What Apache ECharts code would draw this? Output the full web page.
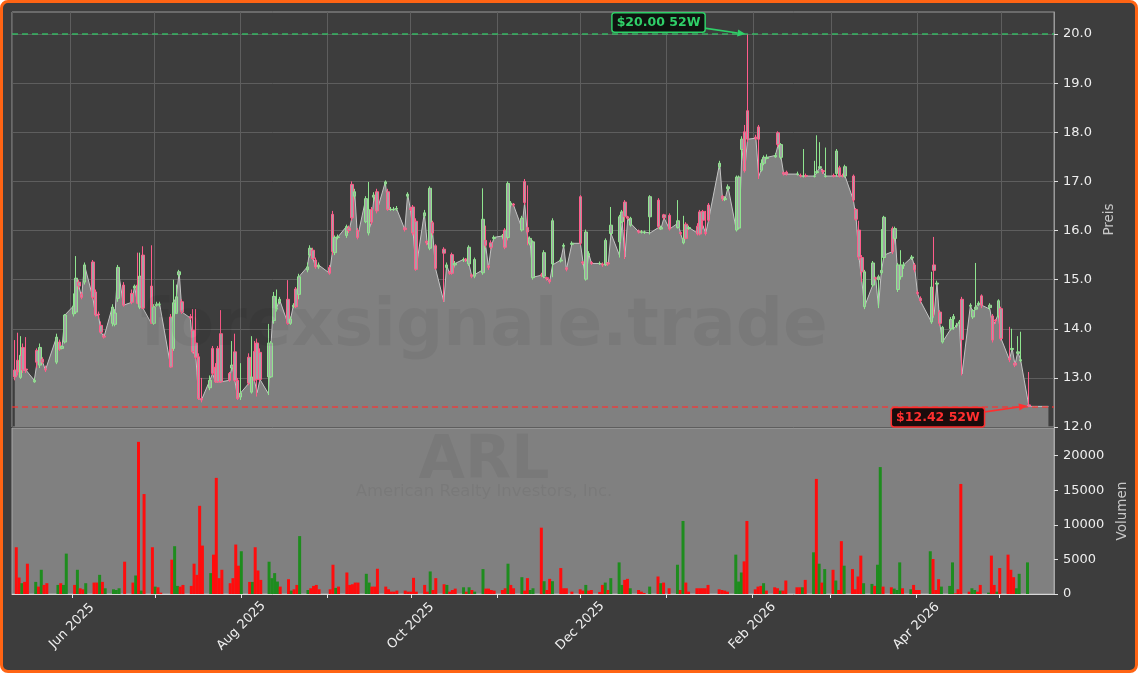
<!DOCTYPE html>
<html>
<head>
<meta charset="utf-8">
<title>ARL</title>
<script src="https://cdn.jsdelivr.net/npm/echarts@6/dist/echarts.min.js"></script>
<style>
  html, body { margin: 0; padding: 0; background: #ffffff; }
  #frame {
    position: absolute; left: 0; top: 0; width: 1138px; height: 673px;
    box-sizing: border-box; border: 3px solid #ff6414; border-radius: 8px; background: #3d3d3d;
  }
  #chart { position: absolute; left: 0; top: 0; width: 1138px; height: 673px; }
</style>
</head>
<body>
<div id="frame"></div>
<div id="chart"></div>
<script>
// Handelstage ab 12.05.2025, US-Feiertage ausgenommen
const startDay = '2025-05-12'
const holidays = ['2025-05-26', '2025-06-19', '2025-07-04', '2025-09-01', '2025-11-27',
  '2025-12-25', '2026-01-01', '2026-01-19', '2026-02-16', '2026-04-03']
const axisStart = '2025-05-11'
const axisEnd = '2026-05-20'

const monthNames = ['Jan', 'Feb', 'Mar', 'Apr', 'May', 'Jun', 'Jul', 'Aug', 'Sep', 'Oct', 'Nov', 'Dec']
const priceTicks = [12, 13, 14, 15, 16, 17, 18, 19, 20]
const volumeTicks = [0, 5000, 10000, 15000, 20000]

// Kerzen
const opens = [
  13.16, 13.36, 13.01, 13.62, 13.18, 12.92, 13.56, 13.26, 13.38, 13.18, 13.32, 13.73, 13.60, 13.73, 14.30, 14.34, 14.95, 14.70, 14.95, 15.36, 14.75, 14.30, 14.07, 13.85, 14.11, 14.09, 14.62, 14.89, 14.72, 14.83, 14.89, 14.44, 15.50, 14.87, 14.11, 14.48, 14.50,
  14.24, 13.60, 14.31, 15.10, 14.55, 14.25, 13.97, 13.71, 13.43, 12.58, 12.80, 13.60, 13.22, 13.60, 13.90, 13.09, 13.20, 13.53, 12.95, 12.61, 13.42, 12.71, 13.54, 13.71, 13.52, 13.02, 13.02, 14.17, 14.40, 14.55, 14.60, 14.11, 14.45, 14.81, 14.70, 15.20, 15.50,
  15.60, 15.40, 15.26, 15.25, 16.33, 15.55, 15.86, 15.90, 16.05, 16.94, 16.70, 16.00, 16.18, 15.95, 16.43, 16.68, 16.79, 16.95, 16.79, 16.43, 16.43, 16.44, 16.05, 16.70, 16.45, 16.48, 16.19, 16.30, 15.78, 15.64, 16.16, 15.69, 15.62, 15.25, 15.15, 15.51, 15.30,
  15.40, 15.42, 15.32, 15.10, 15.07, 15.14, 15.80, 15.28, 15.75, 15.84, 15.88, 16.01, 15.86, 16.52, 16.54, 16.01, 17.00, 16.06, 15.74, 15.04, 15.10, 15.07, 15.04, 15.00, 15.32, 15.38, 15.68, 15.24, 15.72, 16.69, 15.36, 15.01, 15.50, 15.35, 15.33, 15.32,
  15.30, 15.34, 15.94, 15.77, 16.18, 16.58, 16.28, 16.11, 15.99, 15.97, 15.96, 16.28, 16.62, 16.03, 16.32, 16.31, 16.06, 15.96, 15.75, 16.13, 16.04, 16.09, 16.38, 16.39, 15.96, 16.52, 17.30, 16.70, 16.63, 16.85, 16.01, 16.05, 17.65, 18.01, 18.44,
  17.90, 18.11, 17.23, 17.37, 17.47, 17.50, 17.99, 17.49, 17.18, 17.19, 17.15, 17.12, 17.11, 17.12, 17.10, 17.18, 17.28, 17.22, 17.10, 17.12, 17.16, 17.28, 17.12, 17.11, 17.11, 16.43, 16.01, 15.45, 14.45, 14.89, 15.04, 15.00, 15.14, 15.45, 16.04, 15.84, 14.80, 15.06,
  15.28, 15.44, 15.30, 14.74, 14.62, 14.14, 15.30, 14.91, 14.34, 13.73, 14.00, 14.20, 14.06, 14.12, 14.60, 14.46, 14.24, 14.40, 14.50, 14.67, 14.43, 14.26, 14.18, 14.26, 14.41, 13.40, 13.58, 13.30, 13.50, 13.35, 12.45
]
const closes = [
  13.02, 13.12, 13.46, 13.16, 13.16, 12.95, 13.32, 13.62, 13.32, 13.16, 13.83, 13.58, 13.64, 14.28, 14.46, 15.03, 14.87, 14.64, 15.30, 14.64, 14.28, 14.28, 13.93, 13.83, 14.44, 14.32, 15.25, 14.48, 14.54, 14.87, 14.52, 15.07, 14.42, 14.11, 14.44, 14.50, 14.50,
  13.22, 14.53, 14.65, 15.16, 14.34, 14.22, 13.53, 13.42, 12.58, 12.55, 12.95, 13.09, 12.92, 12.92, 12.92, 12.95, 13.26, 12.95, 12.58, 12.69, 12.89, 13.02, 12.95, 12.97, 12.97, 13.71, 13.71, 14.66, 14.42, 14.60, 14.11, 14.20, 14.48, 14.45, 15.06, 15.26, 15.64,
  15.43, 15.26, 15.30, 15.13, 15.57, 15.86, 15.87, 16.08, 16.00, 16.26, 16.79, 15.86, 16.65, 16.43, 16.17, 16.72, 16.40, 16.99, 16.43, 16.43, 16.43, 16.45, 16.02, 16.74, 16.43, 15.95, 15.21, 16.36, 15.75, 16.86, 15.95, 15.23, 15.54, 15.30, 15.13, 15.13, 15.33,
  15.41, 15.40, 15.66, 15.07, 15.41, 16.23, 15.70, 15.25, 15.66, 15.86, 15.89, 15.66, 16.96, 16.56, 16.52, 16.25, 16.57, 15.97, 15.84, 15.77, 15.09, 15.55, 15.02, 14.96, 16.20, 15.40, 15.70, 15.21, 15.74, 15.74, 15.34, 15.97, 15.53, 15.33, 15.33, 15.30,
  15.80, 15.32, 16.11, 16.28, 16.38, 16.28, 16.25, 16.25, 15.97, 15.97, 15.97, 16.69, 16.08, 16.06, 16.26, 16.03, 16.20, 15.94, 15.84, 15.84, 16.06, 15.93, 15.93, 16.21, 15.94, 16.21, 17.37, 16.65, 16.65, 16.89, 17.09, 17.09, 17.86, 17.22, 17.86,
  17.88, 17.86, 17.37, 17.49, 17.49, 17.53, 17.75, 17.75, 17.15, 17.15, 17.15, 17.11, 17.11, 17.11, 17.11, 17.20, 17.30, 17.20, 17.11, 17.11, 17.62, 17.11, 17.11, 17.30, 16.62, 16.23, 15.46, 15.16, 15.16, 15.34, 15.02, 15.06, 15.19, 16.27, 15.57, 16.04, 15.30, 15.30,
  15.30, 15.46, 15.20, 14.72, 14.57, 14.85, 15.19, 14.93, 14.11, 14.03, 14.19, 14.25, 14.07, 14.14, 13.78, 14.48, 14.37, 14.44, 14.52, 14.48, 14.48, 13.77, 14.16, 14.57, 13.80, 13.37, 13.60, 13.26, 13.53, 13.37, 12.42
]
const lows = [
  12.95, 13.05, 12.98, 13.10, 13.10, 12.90, 13.20, 13.20, 13.28, 13.12, 13.28, 13.55, 13.58, 13.70, 14.25, 14.30, 14.80, 14.60, 14.90, 14.60, 14.25, 14.20, 13.90, 13.80, 14.05, 14.05, 14.55, 14.45, 14.50, 14.80, 14.50, 14.40, 14.40, 14.10, 14.08, 14.45, 14.45,
  13.20, 13.55, 14.30, 15.05, 14.30, 14.18, 13.50, 13.38, 12.55, 12.50, 12.75, 13.05, 12.90, 12.90, 12.90, 12.92, 13.15, 12.92, 12.55, 12.55, 12.85, 12.68, 12.92, 12.62, 12.92, 12.65, 13.00, 14.10, 14.35, 14.50, 14.08, 14.08, 14.42, 14.42, 14.60, 15.15, 15.45,
  15.40, 15.22, 15.22, 15.10, 15.50, 15.50, 15.82, 15.85, 15.95, 16.20, 16.65, 15.82, 16.15, 15.90, 16.12, 16.60, 16.35, 16.90, 16.40, 16.40, 16.40, 16.40, 15.98, 16.65, 16.40, 15.90, 15.18, 16.25, 15.70, 15.60, 15.90, 15.20, 14.55, 15.20, 15.10, 15.10, 15.28,
  15.36, 15.36, 15.28, 15.03, 15.03, 15.10, 15.65, 15.20, 15.62, 15.80, 15.84, 15.62, 15.82, 16.50, 16.48, 15.98, 16.52, 15.70, 15.70, 15.00, 15.05, 15.03, 14.98, 14.92, 15.05, 15.35, 15.64, 15.17, 15.70, 15.70, 15.30, 14.98, 15.48, 15.30, 15.30, 15.26,
  15.28, 15.28, 15.90, 15.45, 16.15, 15.42, 16.22, 16.08, 15.94, 15.94, 15.93, 15.92, 16.04, 16.01, 16.22, 16.00, 16.04, 15.90, 15.72, 15.82, 16.02, 15.90, 15.90, 16.05, 15.90, 16.18, 17.25, 16.60, 16.60, 16.80, 15.98, 16.02, 17.45, 17.18, 17.80,
  17.84, 17.05, 17.20, 17.33, 17.45, 17.48, 17.70, 17.45, 17.12, 17.12, 17.12, 17.08, 17.08, 17.08, 17.08, 17.15, 17.25, 17.15, 17.08, 17.08, 17.10, 17.08, 17.08, 17.08, 16.58, 16.20, 15.40, 14.95, 14.40, 14.85, 14.98, 14.42, 15.10, 15.40, 15.52, 15.80, 14.75, 15.00,
  15.22, 15.40, 15.15, 14.68, 14.52, 14.10, 14.25, 14.88, 14.06, 13.70, 13.96, 13.98, 14.02, 14.08, 13.05, 14.42, 14.20, 14.38, 14.46, 14.42, 14.38, 13.72, 14.10, 14.22, 13.76, 13.32, 13.55, 13.22, 13.48, 13.32, 12.42
]
const highs = [
  13.77, 13.92, 13.85, 13.70, 13.83, 13.00, 13.60, 13.70, 13.42, 13.25, 13.90, 13.78, 13.66, 14.30, 14.72, 15.48, 15.00, 14.75, 15.35, 15.40, 14.80, 14.35, 14.15, 13.90, 14.50, 14.40, 15.30, 14.95, 14.80, 14.90, 15.55, 15.55, 15.68, 15.70, 14.50, 14.55, 14.55,
  14.30, 15.00, 14.90, 15.20, 14.60, 14.30, 14.40, 14.40, 13.50, 13.00, 13.05, 13.65, 13.30, 13.65, 14.38, 13.12, 13.75, 13.90, 13.00, 13.30, 13.50, 13.85, 13.75, 13.80, 13.60, 14.10, 13.75, 14.75, 14.80, 14.65, 14.99, 14.25, 14.52, 14.85, 15.12, 15.35, 15.70,
  15.65, 15.45, 15.35, 15.30, 16.40, 15.90, 15.92, 16.12, 16.10, 17.00, 16.85, 16.05, 16.70, 16.99, 16.48, 16.78, 16.85, 17.02, 16.85, 16.48, 16.48, 16.50, 16.08, 16.78, 16.48, 16.52, 16.25, 16.42, 15.80, 16.90, 16.20, 15.72, 15.66, 15.35, 15.18, 15.55, 15.38,
  15.45, 15.44, 15.70, 15.12, 15.45, 16.86, 16.10, 15.30, 15.80, 15.90, 15.93, 16.05, 17.00, 16.60, 16.56, 16.30, 17.05, 16.92, 15.88, 15.80, 15.14, 15.60, 15.06, 15.00, 16.25, 15.45, 15.74, 15.26, 15.78, 16.72, 15.38, 16.02, 15.58, 15.38, 15.37, 15.35,
  15.84, 15.36, 16.48, 16.32, 16.42, 16.62, 16.30, 16.28, 16.02, 16.01, 16.00, 16.72, 16.66, 16.10, 16.34, 16.35, 16.62, 15.98, 16.30, 16.17, 16.10, 16.15, 16.42, 16.42, 16.40, 16.56, 17.42, 16.72, 16.70, 16.94, 17.12, 17.12, 17.92, 18.15, 20.00,
  17.95, 18.15, 17.45, 17.53, 17.55, 17.58, 18.02, 17.78, 17.20, 17.22, 17.20, 17.16, 17.66, 17.16, 17.42, 17.94, 17.80, 17.26, 17.69, 17.16, 17.66, 17.32, 17.16, 17.34, 17.14, 16.46, 16.20, 15.50, 15.20, 15.38, 15.06, 15.10, 16.03, 16.30, 16.08, 16.08, 15.34, 15.60,
  15.36, 15.50, 15.34, 14.78, 14.66, 15.16, 15.87, 14.98, 14.38, 14.06, 14.24, 14.30, 14.12, 14.18, 14.65, 14.52, 14.40, 15.34, 14.56, 14.70, 14.52, 14.30, 14.20, 14.60, 14.45, 14.04, 14.00, 13.32, 13.85, 13.94, 13.12
]

// Schlusskurslinie der Flaeche (laeuft 5 Tage flach weiter)
const lineCloses = [
  13.02, 13.12, 13.46, 13.16, 13.16, 12.95, 13.32, 13.62, 13.32, 13.16, 13.83, 13.58, 13.64, 14.28, 14.46, 15.03, 14.87, 14.64, 15.30, 14.64, 14.28, 14.28, 13.93, 13.83, 14.44, 14.32, 15.25, 14.48, 14.54, 14.87, 14.52, 15.07, 14.42, 14.11, 14.44, 14.50, 14.50,
  13.22, 14.53, 14.65, 15.16, 14.34, 14.22, 13.53, 13.42, 12.58, 12.55, 12.95, 13.09, 12.92, 12.92, 12.92, 12.95, 13.26, 12.95, 12.58, 12.69, 12.89, 13.02, 12.95, 12.70, 12.97, 12.68, 13.71, 14.66, 14.42, 14.60, 14.11, 14.20, 14.48, 14.45, 15.06, 15.26, 15.64,
  15.43, 15.26, 15.30, 15.13, 15.57, 15.86, 15.87, 16.08, 16.00, 16.26, 16.79, 15.86, 16.65, 16.00, 16.17, 16.72, 16.40, 16.99, 16.43, 16.43, 16.43, 16.45, 16.02, 16.74, 16.43, 15.95, 15.21, 16.36, 15.75, 15.64, 15.95, 15.23, 14.55, 15.30, 15.13, 15.13, 15.33,
  15.41, 15.40, 15.33, 15.07, 15.10, 15.20, 15.70, 15.25, 15.66, 15.86, 15.89, 15.66, 15.90, 16.56, 16.52, 16.05, 16.57, 15.90, 15.74, 15.05, 15.09, 15.05, 15.02, 14.96, 15.30, 15.40, 15.70, 15.21, 15.74, 15.74, 15.34, 15.02, 15.53, 15.33, 15.33, 15.30,
  15.32, 15.32, 15.94, 15.50, 16.18, 15.46, 16.25, 16.15, 15.97, 15.97, 15.97, 15.95, 16.06, 16.05, 16.26, 16.03, 16.15, 15.94, 15.75, 15.95, 16.06, 15.95, 15.93, 16.10, 15.94, 16.21, 17.37, 16.65, 16.65, 16.89, 16.01, 16.06, 17.64, 17.22, 17.86,
  17.88, 17.10, 17.25, 17.49, 17.49, 17.53, 17.75, 17.50, 17.15, 17.15, 17.15, 17.11, 17.11, 17.11, 17.11, 17.20, 17.30, 17.20, 17.11, 17.11, 17.11, 17.11, 17.11, 17.11, 16.62, 16.23, 15.46, 14.99, 14.45, 14.90, 15.02, 14.45, 15.14, 15.50, 15.57, 15.90, 15.00, 15.06,
  15.30, 15.46, 15.25, 14.72, 14.57, 14.14, 14.30, 14.93, 14.11, 13.73, 14.00, 14.00, 14.07, 14.14, 13.08, 14.48, 14.30, 14.45, 14.52, 14.48, 14.40, 14.05, 14.16, 14.30, 13.80, 13.37, 13.60, 13.26, 13.53, 13.37, 12.42,
  12.42, 12.42, 12.42, 12.42, 12.42
]

// Volumen, 1 = gruener Balken
const volumes = [
  6760, 2380, 1560, 1750, 4380, 1750, 1070, 3500, 1310, 1560, 1310, 1560, 1310, 5840, 1310, 3500, 830, 680, 1560, 1650, 1650, 2770, 1750, 830, 680, 580, 830, 4670, 1650, 2680, 22000, 490, 14450, 6760, 1070, 970, 200,
  4960, 6910, 1170, 1070, 1310, 1170, 4380, 2770, 12750, 7000, 3020, 5690, 16790, 2290, 3500, 1560, 2290, 7150, 4090, 6180, 1750, 1750, 6760, 3400, 2040, 4670, 2290, 3020, 1800, 1070, 2140, 490, 680, 1310, 8370, 580, 830,
  1170, 1310, 680, 680, 4230, 880, 1070, 3110, 1310, 1410, 1650, 1650, 2920, 1650, 1070, 1070, 3650, 1070, 680, 340, 340, 490, 490, 340, 340, 2340, 340, 1310, 340, 3260, 580, 2290, 1410, 1310, 340, 580, 780,
  970, 340, 970, 580, 340, 3600, 780, 780, 580, 490, 580, 830, 4380, 1310, 830, 2430, 490, 2290, 580, 830, 9590, 1850, 580, 2190, 1850, 3750, 830, 830, 340, 680, 490, 1310, 490, 580, 300, 1310,
  1650, 580, 2290, 4570, 1310, 2040, 2190, 830, 580, 340, 150, 1070, 2530, 1560, 1650, 830, 4230, 580, 10560, 1650, 340, 830, 830, 830, 830, 1310, 680, 580, 490, 340, 5690, 1800, 3110, 4720, 10560,
  680, 1070, 1170, 1560, 490, 970, 830, 490, 490, 1950, 970, 970, 970, 2040, 6030, 16640, 4380, 1650, 3600, 3500, 1950, 580, 7640, 4090, 3600, 680, 2530, 5550, 1560, 1460, 1170, 4230, 18350, 1070, 970, 780, 580, 4570,
  830, 680, 1310, 580, 580, 6180, 5060, 580, 2140, 1070, 1170, 4570, 100, 680, 15910, 340, 830, 580, 340, 1310, 200, 5550, 1310, 340, 3750, 5690, 3500, 2430, 830, 2920, 4570
]
const volumeUp = [
  0, 0, 1, 0, 0, 1, 0, 1, 0, 0, 1, 0, 1, 1, 0, 1, 0, 0, 1, 0, 0, 1, 0, 1, 1, 1, 1, 0, 0, 1, 0, 1, 0, 0, 1, 0, 0,
  0, 1, 1, 0, 0, 0, 0, 0, 0, 0, 1, 0, 0, 0, 0, 0, 0, 0, 0, 1, 0, 1, 0, 0, 0, 1, 1, 1, 1, 0, 0, 1, 0, 0, 1, 1, 0,
  0, 0, 0, 0, 0, 1, 0, 0, 0, 0, 0, 0, 1, 1, 0, 0, 0, 0, 0, 0, 0, 0, 0, 0, 0, 0, 0, 0, 0, 1, 0, 0, 0, 1, 0, 0, 0,
  1, 0, 1, 0, 1, 1, 0, 0, 0, 0, 0, 0, 1, 0, 0, 1, 0, 0, 1, 1, 0, 1, 0, 0, 1, 0, 0, 0, 0, 0, 0, 1, 0, 0, 0, 0,
  1, 0, 1, 1, 1, 0, 0, 1, 0, 0, 0, 1, 0, 1, 0, 0, 1, 0, 1, 0, 0, 0, 0, 0, 0, 0, 0, 0, 0, 0, 1, 1, 1, 0, 0,
  0, 0, 0, 1, 0, 0, 0, 1, 0, 0, 0, 0, 1, 0, 1, 0, 1, 0, 1, 0, 1, 0, 0, 1, 0, 0, 0, 0, 1, 1, 0, 1, 1, 0, 0, 1, 1, 1,
  0, 1, 0, 0, 0, 1, 0, 0, 0, 1, 1, 1, 0, 0, 0, 0, 1, 1, 0, 0, 1, 0, 0, 1, 0, 0, 0, 0, 1, 1, 1
]

const sizes = [opens, closes, lows, highs, volumes, volumeUp].map(a => a.length)
if (sizes.some(n => n !== opens.length) || lineCloses.length !== opens.length + 5)
  throw new Error('array lengths differ: ' + sizes + ' / ' + lineCloses.length)

const font = 'DejaVu Sans'
const green = '#2fcf68'
const red = '#ff2f2f'

function tradingDays(start, count) {
  const out = []
  const d = new Date(start + 'T00:00:00Z')
  while (out.length < count) {
    const iso = d.toISOString().slice(0, 10)
    const wd = d.getUTCDay()
    if (wd !== 0 && wd !== 6 && !holidays.includes(iso))
      out.push(iso)
    d.setUTCDate(d.getUTCDate() + 1)
  }
  return out
}
const toTime = s => new Date(s + 'T00:00:00').getTime()

const times = tradingDays(startDay, lineCloses.length).map(toTime)

const candleData = opens.map((o, i) => [times[i], o, closes[i], lows[i], highs[i]])
const lineData = lineCloses.map((c, i) => [times[i], c])
const volumeData = volumes.map((v, i) => ({
  value: [times[i], v],
  itemStyle: { color: volumeUp[i] ? '#1e8c1e' : '#ff0d0d' },
}))

const weekHigh = Math.max(...highs)
const weekLow = Math.min(...lows)
const hiIdx = highs.indexOf(weekHigh)
const loIdx = lows.indexOf(weekLow)

// nur Monatsanfaenge Jun, Aug, Okt ... beschriften
function monthLabel(v) {
  const d = new Date(v)
  if (d.getDate() !== 1 || d.getMonth() % 2 !== 1)
    return ''
  return monthNames[d.getMonth()] + ' ' + d.getFullYear()
}

const chart = echarts.init(document.getElementById('chart'))

const xCommon = {
  type: 'time',
  min: toTime(axisStart),
  max: toTime(axisEnd),
  splitNumber: 12,
  minInterval: 28 * 864e5,
  maxInterval: 31 * 864e5,
}

chart.setOption({
  animation: false,
  textStyle: { fontFamily: font },
  grid: [
    { left: 12, right: 84, top: 12, height: 415, show: true, backgroundColor: 'transparent', borderColor: '#9a9a9a', borderWidth: 1 },
    { left: 12, right: 84, top: 428, height: 166, show: true, backgroundColor: '#808080', borderColor: '#a8a8a8', borderWidth: 1 },
  ],
  xAxis: [
    {
      ...xCommon,
      gridIndex: 0,
      axisLine: { show: false },
      axisTick: { show: false },
      axisLabel: { show: false },
      splitLine: { show: true, lineStyle: { color: '#5e5e5e', width: 1 } },
    },
    {
      ...xCommon,
      gridIndex: 1,
      axisLine: { show: true, lineStyle: { color: '#d8d8d8' } },
      axisTick: { show: true, length: 4, lineStyle: { color: '#e6e6e6' } },
      axisLabel: {
        rotate: 45,
        align: 'center',
        verticalAlign: 'middle',
        margin: 32,
        color: '#eeeeee',
        fontSize: 13,
        fontFamily: font,
        hideOverlap: false,
        formatter: monthLabel,
      },
      splitLine: { show: false },
    },
  ],
  yAxis: [
    {
      type: 'value',
      gridIndex: 0,
      position: 'right',
      min: 12,
      max: 20.45,
      axisLine: { show: true, lineStyle: { color: '#9a9a9a' } },
      axisTick: { show: true, length: 4, lineStyle: { color: '#e0e0e0' }, customValues: priceTicks },
      axisLabel: { customValues: priceTicks, color: '#eeeeee', fontSize: 13, margin: 9, formatter: v => v.toFixed(1) },
      splitLine: { show: true, lineStyle: { color: '#5e5e5e', width: 1 } },
      name: 'Preis',
      nameLocation: 'middle',
      nameRotate: 90,
      nameGap: 46,
      nameTextStyle: { color: '#c8c8c8', fontSize: 13.5, fontFamily: font },
    },
    {
      type: 'value',
      gridIndex: 1,
      position: 'right',
      min: 0,
      max: 24000,
      axisLine: { show: true, lineStyle: { color: '#a8a8a8' } },
      axisTick: { show: true, length: 4, lineStyle: { color: '#e0e0e0' }, customValues: volumeTicks },
      axisLabel: { customValues: volumeTicks, color: '#eeeeee', fontSize: 13, margin: 9, formatter: v => String(v) },
      splitLine: { show: false },
      name: 'Volumen',
      nameLocation: 'middle',
      nameRotate: 90,
      nameGap: 58,
      nameTextStyle: { color: '#c8c8c8', fontSize: 13.5, fontFamily: font },
    },
  ],
  series: [
    {
      name: 'Schluss',
      type: 'line',
      xAxisIndex: 0,
      yAxisIndex: 0,
      data: lineData,
      symbol: 'none',
      showSymbol: false,
      lineStyle: { color: '#c4c4c4', width: 1 },
      areaStyle: { color: '#808080', opacity: 1, origin: 'start' },
      z: 2,
      markLine: {
        silent: true,
        symbol: 'none',
        label: { show: false },
        data: [
          { yAxis: weekHigh, lineStyle: { color: 'rgba(47,207,104,0.8)', type: [6, 4], width: 1.5 } },
          { yAxis: weekLow, lineStyle: { color: 'rgba(255,47,47,0.8)', type: [6, 4], width: 1.5 } },
        ],
      },
    },
    {
      name: 'ARL',
      type: 'candlestick',
      xAxisIndex: 0,
      yAxisIndex: 0,
      data: candleData,
      encode: { x: 0, y: [1, 2, 3, 4] },
      barWidth: 3,
      itemStyle: {
        color: '#a4a4a4',
        color0: '#a4a4a4',
        borderColor: '#8fe58f',
        borderColor0: '#ff5c8a',
        borderWidth: 1,
      },
      z: 3,
    },
    {
      name: 'Volumen',
      type: 'bar',
      xAxisIndex: 1,
      yAxisIndex: 1,
      data: volumeData,
      barWidth: 3,
    },
  ],
})

// Pfeil von a nach b
function arrow(a, b, color) {
  const dx = b[0] - a[0]
  const dy = b[1] - a[1]
  const len = Math.hypot(dx, dy)
  const ux = dx / len
  const uy = dy / len
  const bx = b[0] - ux * 8
  const by = b[1] - uy * 8
  return [
    { type: 'line', z: 50, shape: { x1: a[0], y1: a[1], x2: bx, y2: by }, style: { stroke: color, lineWidth: 1.6 } },
    { type: 'polygon', z: 50, shape: { points: [b, [bx - uy * 3.5, by + ux * 3.5], [bx + uy * 3.5, by - ux * 3.5]] }, style: { fill: color } },
  ]
}

function tag(x, y, text, color, bg) {
  return {
    type: 'text', z: 51, x, y,
    style: {
      text, fill: color, font: 'bold 12.5px "DejaVu Sans"', align: 'center', verticalAlign: 'middle',
      backgroundColor: bg, borderColor: color, borderWidth: 1.5, borderRadius: 2, padding: [3, 4, 2, 4],
    },
  }
}

function mark(x, y, text, size, weight) {
  return {
    type: 'text', z: 40, x, y, silent: true,
    style: {
      text, fill: 'rgba(0,0,0,0.055)', font: weight + ' ' + size + 'px "DejaVu Sans"',
      align: 'center', verticalAlign: 'middle',
    },
  }
}

const hi = chart.convertToPixel({ gridIndex: 0 }, [times[hiIdx], weekHigh])
const lo = chart.convertToPixel({ gridIndex: 0 }, [times[loIdx], weekLow])

chart.setOption({
  graphic: [
    mark(484, 328, 'forexsignale.trade', 66, 'bold'),
    mark(484, 462, 'ARL', 60, 'bold'),
    mark(484, 492, 'American Realty Investors, Inc.', 16.5, 'normal'),
    ...arrow([hi[0] - 43, hi[1] - 6], [hi[0] - 2, hi[1]], green),
    tag(hi[0] - 89, hi[1] - 11.5, '$' + weekHigh.toFixed(2) + ' 52W', green, '#0f1410'),
    ...arrow([lo[0] - 44, lo[1] + 5.5], [lo[0] - 2, lo[1] - 0.5], red),
    tag(lo[0] - 91, lo[1] + 11, '$' + weekLow.toFixed(2) + ' 52W', red, '#1a0c0c'),
  ],
})
</script>
</body>
</html>
